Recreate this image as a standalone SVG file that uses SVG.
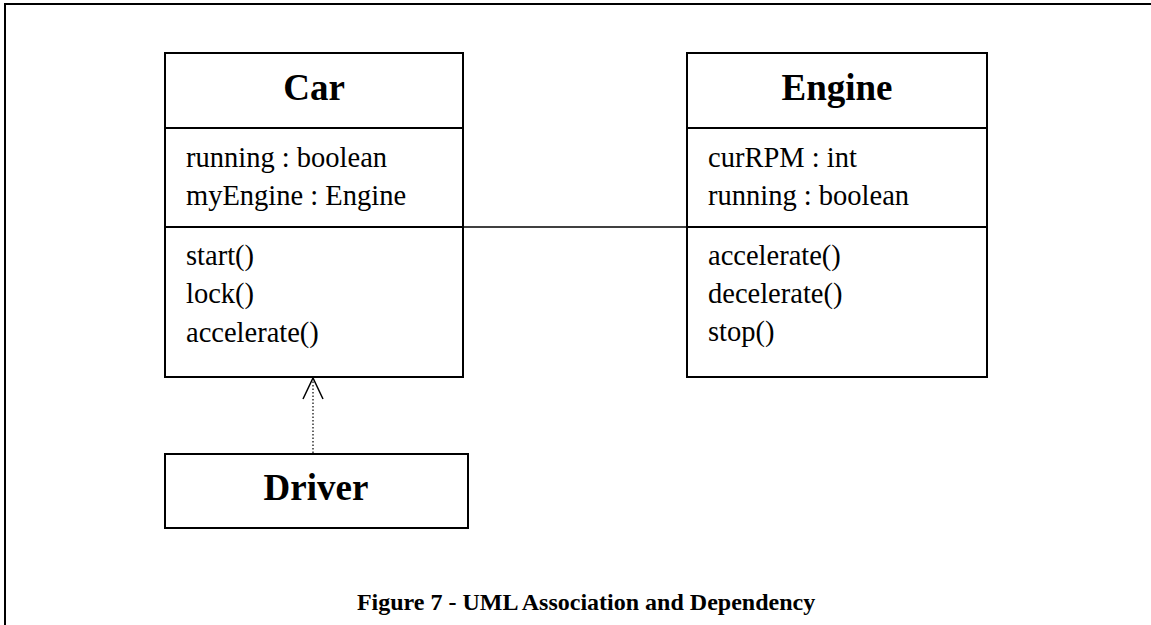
<svg xmlns="http://www.w3.org/2000/svg" width="1151" height="625" viewBox="0 0 1151 625">
  <style>
    .box { fill: #ffffff; stroke: #000000; stroke-width: 2; }
    .sep { stroke: #000000; stroke-width: 2; fill: none; }
    .title { font-family: "Liberation Serif", "Times New Roman", serif; font-weight: bold; font-size: 37px; fill: #000000; text-anchor: middle; }
    .member { font-family: "Liberation Serif", "Times New Roman", serif; font-size: 28.5px; fill: #000000; }
    .caption { font-family: "Liberation Serif", "Times New Roman", serif; font-weight: bold; font-size: 24px; fill: #000000; text-anchor: middle; }
    .assoc { stroke: #000000; stroke-width: 1.5; fill: none; }
    .dep { stroke: #000000; stroke-width: 1.2; stroke-dasharray: 1.5 2; fill: none; }
    .head { stroke: #000000; stroke-width: 1.5; fill: none; }
  </style>
  <rect x="0" y="0" width="1151" height="625" fill="#ffffff"/>

  <!-- outer frame (continues past the right and bottom edges) -->
  <path d="M5,640 V4 H1160" fill="none" stroke="#000000" stroke-width="2"/>

  <!-- connectors -->
  <g id="connectors">
    <!-- association Car - Engine -->
    <line class="assoc" x1="464" y1="227" x2="687" y2="227"/>
    <!-- dependency Driver ..> Car -->
    <line class="dep" x1="313" y1="453" x2="313" y2="380"/>
    <polyline class="head" points="303,399 313,378 323,399"/>
  </g>

  <!-- class Car -->
  <g id="car">
    <rect class="box" x="165" y="53" width="298" height="324"/>
    <line class="sep" x1="165" y1="128" x2="463" y2="128"/>
    <line class="sep" x1="165" y1="227" x2="463" y2="227"/>
    <text class="title" x="314" y="100">Car</text>
    <text class="member" x="186" y="167">running : boolean</text>
    <text class="member" x="186" y="205">myEngine : Engine</text>
    <text class="member" x="186" y="265">start()</text>
    <text class="member" x="186" y="303">lock()</text>
    <text class="member" x="186" y="342">accelerate()</text>
  </g>

  <!-- class Engine -->
  <g id="engine">
    <rect class="box" x="687" y="53" width="300" height="324"/>
    <line class="sep" x1="687" y1="128" x2="987" y2="128"/>
    <line class="sep" x1="687" y1="227" x2="987" y2="227"/>
    <text class="title" x="837" y="100">Engine</text>
    <text class="member" x="708" y="167">curRPM : int</text>
    <text class="member" x="708" y="205">running : boolean</text>
    <text class="member" x="708" y="265">accelerate()</text>
    <text class="member" x="708" y="303">decelerate()</text>
    <text class="member" x="708" y="341">stop()</text>
  </g>

  <!-- class Driver -->
  <g id="driver">
    <rect class="box" x="165" y="454" width="303" height="74"/>
    <text class="title" x="316" y="500">Driver</text>
  </g>

  <!-- figure caption -->
  <g id="caption">
    <text class="caption" x="586" y="610">Figure 7 - UML Association and Dependency</text>
  </g>
</svg>
